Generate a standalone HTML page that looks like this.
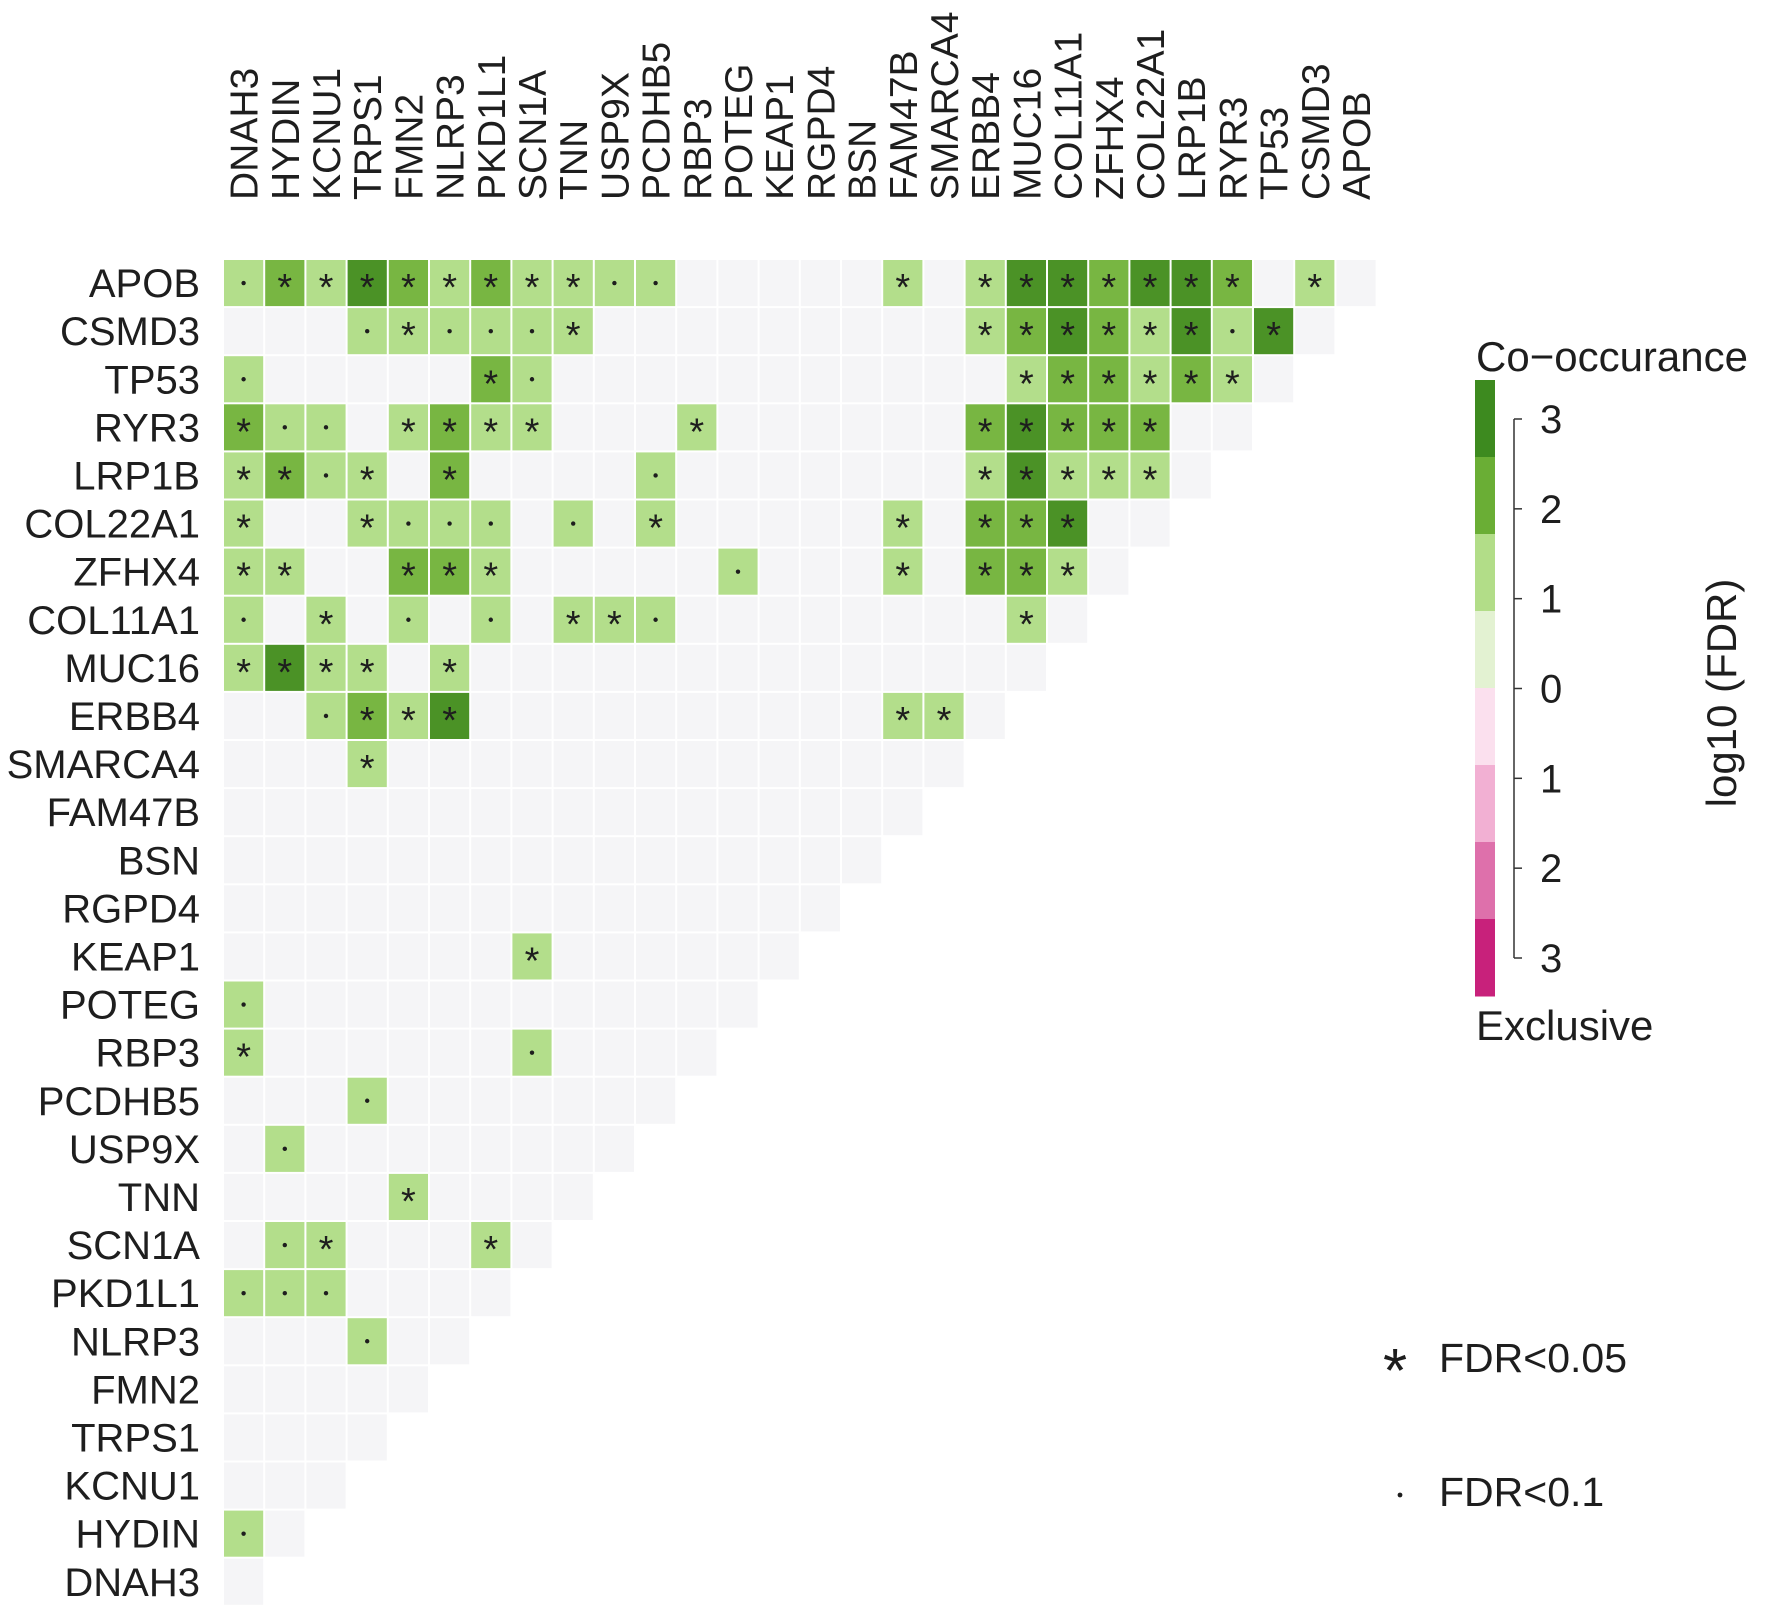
<!DOCTYPE html>
<html><head><meta charset="utf-8"><style>
html,body{margin:0;padding:0;background:#fff;}
svg text{font-family:"Liberation Sans",sans-serif;fill:#1e1e1e;}
</style></head><body>
<svg id="chart" width="1772" height="1609" viewBox="0 0 1772 1609" xmlns="http://www.w3.org/2000/svg">
<g id="cells"></g>
<g id="rowlabels"></g>
<g id="collabels"></g>
<g id="legend"></g>
</svg>
<script>
const genes = ["APOB","CSMD3","TP53","RYR3","LRP1B","COL22A1","ZFHX4","COL11A1","MUC16","ERBB4","SMARCA4","FAM47B","BSN","RGPD4","KEAP1","POTEG","RBP3","PCDHB5","USP9X","TNN","SCN1A","PKD1L1","NLRP3","FMN2","TRPS1","KCNU1","HYDIN","DNAH3"];
const colGenes = genes.slice().reverse();
// significant pairs: [row gene, column gene, level (1..3), mark (* FDR<0.05, . FDR<0.1)]
const pairs = [
["APOB","DNAH3",1,"."],["APOB","HYDIN",2,"*"],["APOB","KCNU1",1,"*"],["APOB","TRPS1",3,"*"],["APOB","FMN2",2,"*"],["APOB","NLRP3",1,"*"],["APOB","PKD1L1",2,"*"],["APOB","SCN1A",1,"*"],["APOB","TNN",1,"*"],["APOB","USP9X",1,"."],["APOB","PCDHB5",1,"."],["APOB","FAM47B",1,"*"],["APOB","ERBB4",1,"*"],["APOB","MUC16",3,"*"],["APOB","COL11A1",3,"*"],["APOB","ZFHX4",2,"*"],["APOB","COL22A1",3,"*"],["APOB","LRP1B",3,"*"],["APOB","RYR3",2,"*"],["APOB","CSMD3",1,"*"],
["CSMD3","TRPS1",1,"."],["CSMD3","FMN2",1,"*"],["CSMD3","NLRP3",1,"."],["CSMD3","PKD1L1",1,"."],["CSMD3","SCN1A",1,"."],["CSMD3","TNN",1,"*"],["CSMD3","ERBB4",1,"*"],["CSMD3","MUC16",2,"*"],["CSMD3","COL11A1",3,"*"],["CSMD3","ZFHX4",2,"*"],["CSMD3","COL22A1",1,"*"],["CSMD3","LRP1B",3,"*"],["CSMD3","RYR3",1,"."],["CSMD3","TP53",3,"*"],
["TP53","DNAH3",1,"."],["TP53","PKD1L1",2,"*"],["TP53","SCN1A",1,"."],["TP53","MUC16",1,"*"],["TP53","COL11A1",2,"*"],["TP53","ZFHX4",2,"*"],["TP53","COL22A1",1,"*"],["TP53","LRP1B",2,"*"],["TP53","RYR3",1,"*"],
["RYR3","DNAH3",2,"*"],["RYR3","HYDIN",1,"."],["RYR3","KCNU1",1,"."],["RYR3","FMN2",1,"*"],["RYR3","NLRP3",2,"*"],["RYR3","PKD1L1",1,"*"],["RYR3","SCN1A",1,"*"],["RYR3","RBP3",1,"*"],["RYR3","ERBB4",2,"*"],["RYR3","MUC16",3,"*"],["RYR3","COL11A1",2,"*"],["RYR3","ZFHX4",2,"*"],["RYR3","COL22A1",2,"*"],
["LRP1B","DNAH3",1,"*"],["LRP1B","HYDIN",2,"*"],["LRP1B","KCNU1",1,"."],["LRP1B","TRPS1",1,"*"],["LRP1B","NLRP3",2,"*"],["LRP1B","PCDHB5",1,"."],["LRP1B","ERBB4",1,"*"],["LRP1B","MUC16",3,"*"],["LRP1B","COL11A1",1,"*"],["LRP1B","ZFHX4",1,"*"],["LRP1B","COL22A1",1,"*"],
["COL22A1","DNAH3",1,"*"],["COL22A1","TRPS1",1,"*"],["COL22A1","FMN2",1,"."],["COL22A1","NLRP3",1,"."],["COL22A1","PKD1L1",1,"."],["COL22A1","TNN",1,"."],["COL22A1","PCDHB5",1,"*"],["COL22A1","FAM47B",1,"*"],["COL22A1","ERBB4",2,"*"],["COL22A1","MUC16",2,"*"],["COL22A1","COL11A1",3,"*"],
["ZFHX4","DNAH3",1,"*"],["ZFHX4","HYDIN",1,"*"],["ZFHX4","FMN2",2,"*"],["ZFHX4","NLRP3",2,"*"],["ZFHX4","PKD1L1",1,"*"],["ZFHX4","POTEG",1,"."],["ZFHX4","FAM47B",1,"*"],["ZFHX4","ERBB4",2,"*"],["ZFHX4","MUC16",2,"*"],["ZFHX4","COL11A1",1,"*"],
["COL11A1","DNAH3",1,"."],["COL11A1","KCNU1",1,"*"],["COL11A1","FMN2",1,"."],["COL11A1","PKD1L1",1,"."],["COL11A1","TNN",1,"*"],["COL11A1","USP9X",1,"*"],["COL11A1","PCDHB5",1,"."],["COL11A1","MUC16",1,"*"],
["MUC16","DNAH3",1,"*"],["MUC16","HYDIN",3,"*"],["MUC16","KCNU1",1,"*"],["MUC16","TRPS1",1,"*"],["MUC16","NLRP3",1,"*"],
["ERBB4","KCNU1",1,"."],["ERBB4","TRPS1",2,"*"],["ERBB4","FMN2",1,"*"],["ERBB4","NLRP3",3,"*"],["ERBB4","FAM47B",1,"*"],["ERBB4","SMARCA4",1,"*"],
["SMARCA4","TRPS1",1,"*"],
["KEAP1","SCN1A",1,"*"],
["POTEG","DNAH3",1,"."],
["RBP3","DNAH3",1,"*"],["RBP3","SCN1A",1,"."],
["PCDHB5","TRPS1",1,"."],
["USP9X","HYDIN",1,"."],
["TNN","FMN2",1,"*"],
["SCN1A","HYDIN",1,"."],["SCN1A","KCNU1",1,"*"],["SCN1A","PKD1L1",1,"*"],
["PKD1L1","DNAH3",1,"."],["PKD1L1","HYDIN",1,"."],["PKD1L1","KCNU1",1,"."],
["NLRP3","TRPS1",1,"."],
["HYDIN","DNAH3",1,"."]
];
const x0=223, cw=41.2, y0=259, ch=48.1;
const colX = i => x0 + i*cw;
const rowY = i => y0 + i*ch;
const levelColor = ["#f5f5f7","#b3de8b","#78b642","#4b9226"];
const NS="http://www.w3.org/2000/svg";
function mk(tag, attrs){const e=document.createElementNS(NS,tag);for(const k in attrs)e.setAttribute(k,attrs[k]);return e;}
const lookup={};
pairs.forEach(p=>{lookup[p[0]+'|'+p[1]]=p;});
const cells=document.getElementById('cells');
genes.forEach((g,r)=>{
  const n=28-r;
  for(let c=0;c<n;c++){
    const p=lookup[g+'|'+colGenes[c]];
    const lv=p?p[2]:0;
    const rect=mk('rect',{x:colX(c)+1,y:rowY(r)+1,width:cw-2,height:ch-2,fill:levelColor[lv]});
    
    
    cells.appendChild(rect);
    const m=p?p[3]:'';
    if(m==='*'){
      const t=mk('text',{x:colX(c)+cw/2,y:rowY(r)+ch/2+17,'text-anchor':'middle','font-size':38});
      t.textContent='*';
      
      
      cells.appendChild(t);
    } else if(m==='.'){
      const d=mk('circle',{cx:colX(c)+cw/2,cy:rowY(r)+ch/2,r:2.2,fill:'#1e1e1e'});
      
      
      cells.appendChild(d);
    }
  }
});
const rl=document.getElementById('rowlabels');
genes.forEach((g,r)=>{
  const t=mk('text',{x:200,y:rowY(r)+ch/2+14,'text-anchor':'end','font-size':40});
  t.textContent=g;
  
  
  rl.appendChild(t);
});
const cl=document.getElementById('collabels');
colGenes.forEach((g,c)=>{
  const cx=colX(c)+cw/2+14;
  const t=mk('text',{x:cx,y:200,'font-size':39,transform:`rotate(-90 ${cx} 200)`});
  t.textContent=g;
  
  
  cl.appendChild(t);
});
// legend
const legendColors = ["#3d8a1f","#6aae35","#b2dd88","#e3f2d2","#fbe0ee","#f2b0d3","#de70ab","#c8217b"];
const legendTicks = ["3","2","1","0","1","2","3"];
const lg=document.getElementById('legend');
const ly0=380, lh=77;
legendColors.forEach((col,i)=>{
  const r=mk('rect',{x:1475,y:ly0+i*lh,width:20,height:lh+0.5,fill:col});
  
  
  lg.appendChild(r);
});
const axTop=419, axBot=958;
const axis=mk('line',{x1:1514,y1:axTop,x2:1514,y2:axBot,stroke:'#333','stroke-width':1.5});


lg.appendChild(axis);
legendTicks.forEach((lab,i)=>{
  const y=axTop+i*(axBot-axTop)/(legendTicks.length-1);
  const tk=mk('line',{x1:1514,y1:y,x2:1522,y2:y,stroke:'#333','stroke-width':1.5});
  
  
  lg.appendChild(tk);
  const t=mk('text',{x:1540,y:y+14,'font-size':40});
  t.textContent=lab;
  
  
  lg.appendChild(t);
});
function addText(txt,attrs,name){const t=mk('text',attrs);t.textContent=txt;lg.appendChild(t);}
addText("Co\u2212occurance",{x:1476,y:371,'font-size':42},'legend-title-cooccurrence');
addText("Exclusive",{x:1476,y:1040,'font-size':42},'legend-title-exclusive');
addText("log10 (FDR)",{x:1736,y:693,'font-size':42,'text-anchor':'middle',transform:'rotate(-90 1736 693)'},'legend-axis-title');
addText("*",{x:1383,y:1392,'font-size':62},'legend-star-symbol');
addText("FDR<0.05",{x:1439,y:1372,'font-size':41},'legend-fdr005-label');
addText("FDR<0.1",{x:1439,y:1506,'font-size':41},'legend-fdr01-label');
const dot=mk('circle',{cx:1400,cy:1495,r:2.4,fill:'#1e1e1e'});


lg.appendChild(dot);
</script>
</body></html>
